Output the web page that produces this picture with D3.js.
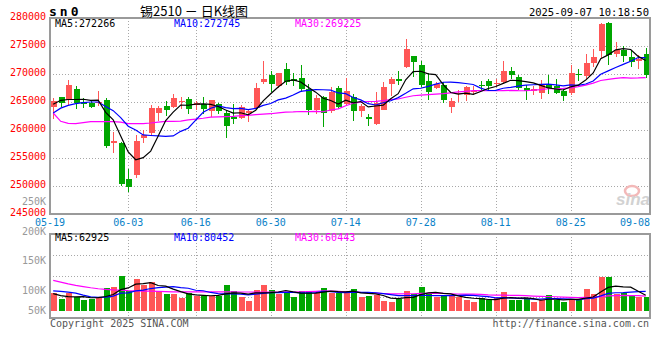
<!DOCTYPE html>
<html><head><meta charset="utf-8">
<script src="https://cdn.jsdelivr.net/npm/d3@7/dist/d3.min.js"></script>
<style>body{margin:0;background:#fff}svg{display:block}</style>
</head><body><svg id="c" width="660" height="360"></svg>
<script>
const dates = ["05-19","05-20","05-21","05-22","05-23","05-26","05-27","05-28","05-29","05-30",
"06-03","06-04","06-05","06-06","06-09","06-10","06-11","06-12","06-13","06-16",
"06-17","06-18","06-19","06-20","06-23","06-24","06-25","06-26","06-27","06-30",
"07-01","07-02","07-03","07-04","07-07","07-08","07-09","07-10","07-11","07-14",
"07-15","07-16","07-17","07-18","07-21","07-22","07-23","07-24","07-25","07-28",
"07-29","07-30","07-31","08-01","08-04","08-05","08-06","08-07","08-08","08-11",
"08-12","08-13","08-14","08-15","08-18","08-19","08-20","08-21","08-22","08-25",
"08-26","08-27","08-28","08-29","09-01","09-02","09-03","09-04","09-05","09-08"];
const opens = [264170,265830,265300,267260,264940,264820,264820,265300,257680,257680,
251190,252020,258630,259460,263040,264230,264110,265120,265480,264400,
264580,263330,264580,263040,262320,262200,263040,263930,268570,269760,
267860,270830,269170,269230,267380,263570,265950,263330,267560,264700,
265950,263390,262320,261010,263570,268160,269110,271250,273160,271550,
268690,267500,268100,264110,266430,266310,266850,268100,268690,268210,
268570,270480,269460,267440,266900,266610,268270,267800,266960,266610,
269940,269640,271960,274110,279050,273510,274230,273040,272320,273510];
const highs = [265710,265900,268870,267860,265710,265420,266900,265710,259700,257860,
253100,259050,260060,264520,264230,265120,266370,265890,265890,265120,
265890,265300,264820,263510,264700,264400,263810,268390,272260,270480,
270180,271900,270120,271550,268270,266310,266070,267680,267800,269290,
266370,264700,262920,266730,268510,269460,270480,276190,273160,272260,
270180,268510,268570,265770,267200,267800,267800,268810,269110,269050,
272260,271250,269880,267980,267800,268870,269760,269170,267380,271550,
270830,273630,274520,279170,279290,275710,275000,274350,273450,274640];
const lows = [262020,264110,264400,263810,263930,263930,264290,256850,255950,250000,
248930,251430,257740,259050,261550,262440,263930,263810,262800,263510,
262800,262320,262920,258570,261010,262020,261430,263690,268160,266790,
267560,268100,267800,266790,262620,262920,260540,263040,263690,264400,
261610,262320,260710,260830,263510,266010,267980,271130,269400,267680,
265420,267380,264820,263040,265000,265180,266190,267020,267020,267680,
268270,269050,267080,265300,266190,265600,266490,266370,265120,266190,
268810,269170,271250,272860,271550,273040,272140,271250,270950,269290];
const closes = [265120,264820,267980,264820,264700,264110,265000,257140,258100,250300,
249820,258100,259050,263870,263870,263510,265710,265240,263750,264820,
263750,265300,263330,260710,261960,264110,263390,267500,269110,268210,
270120,268570,268750,267260,263570,265660,263100,266790,264110,266900,
263390,264230,262020,264880,267620,269110,268810,274400,272140,267980,
266790,268160,265360,265180,266610,267620,267020,267920,267860,268390,
270480,269760,267560,266960,267260,268270,267500,266610,266070,270120,
269760,272020,272980,278870,273450,274230,273160,272140,272740,269760];
const volumes = [71300,48000,71300,55000,43900,46700,52000,93000,97000,142000,
82000,130000,104000,118000,82000,68500,68500,53000,71300,61500,
61500,59000,59000,105000,81000,55000,41000,85000,104000,85000,
68500,71300,56000,81000,81000,71300,93000,74000,71300,75400,
89000,57400,60000,64000,41000,35700,46700,81000,68500,97000,
72600,55000,60000,60000,55000,43900,35700,51000,43900,51000,
76700,43900,43900,46700,35700,43900,64000,43900,35700,43900,
43900,89000,68500,138000,138000,70000,72600,64000,55000,55000];
const ma5Lead = [264600,265300,265450,265450];
const ma10Lead = [263040,263900,264400,264700,264880,265000,265000,264200,263450];
const ma30Lead = [263040,261550,261200,261130,261310,261490,261490,261490,261490,261400,
261130,261130,261130,261250,261400,261550,261550,261600,261800,261950,
262100,262300,262350,262400,262450,262550,262600,262750,262850];
const vma5Lead = [70000,62000,58000,57000];
const vma10Lead = [81000,79000,76000,72000,64000,57000,55000,56000,60000];
const vma30Lead = [124600,117000,110000,104000,99000,94000,90000,87000,85000,84000,
82000,81000,80000,80000,79000,78000,77500,77000,77000,77000,
77000,77000,76800,76800,76800,76600,76600,76500,76500];
const priceTicks = [245000,250000,255000,260000,265000,270000,275000,280000];
const volLabelTicks = [250000,200000,150000,100000,50000];
const volLabels = ["250K","200K","150K","100K","50K"];
const dateTickIdx = [0,10,19,29,39,49,59,69,79];
const maLabels = {ma5:"MA5:272266", ma10:"MA10:272745", ma30:"MA30:269225"};
const vmaLabels = {ma5:"MA5:62925", ma10:"MA10:80452", ma30:"MA30:60443"};

const RED="#ff5656", GREEN="#00a600", GRID="#a8a8a8", BORDER="#9a9a9a";
const MONO="'DejaVu Sans Mono', 'Liberation Mono', monospace";
const svg = d3.select("#c");
const L=50, R=650, T=18, B=214, VT=234, VB=318;

const x = d3.scaleLinear().domain([0,79]).range([53.2,645.7]);
const y = d3.scaleLinear().domain([245000,280000]).range([B,T]);
const yV = d3.scaleLinear().domain([0,100000]).range([310.7,286.3]);
const yVL = d3.scaleLinear().domain([50000,100000,250000]).range([310,290,201.5]);
const yVG = d3.scaleLinear().domain([0,4]).range([VB,VT]);

function ma(arr,n,lead){return arr.map((_,i)=> i<n-1 ? lead[i] : d3.mean(arr.slice(i-n+1,i+1)));}

// grids
const g = svg.append("g").attr("shape-rendering","crispEdges");
g.selectAll(".hg").data(priceTicks.filter(t=>t>245000&&t<280000)).join("line")
  .attr("x1",L).attr("x2",R).attr("y1",d=>Math.round(y(d))+0.5).attr("y2",d=>Math.round(y(d))+0.5)
  .attr("stroke",GRID).attr("stroke-dasharray","1,2");
g.selectAll(".vg").data(dateTickIdx.slice(1,-1)).join("line")
  .attr("x1",d=>Math.round(x(d))+0.5).attr("x2",d=>Math.round(x(d))+0.5).attr("y1",T).attr("y2",B)
  .attr("stroke",GRID).attr("stroke-dasharray","1,2");
g.selectAll(".vhg").data([1,2,3]).join("line")
  .attr("x1",L).attr("x2",R).attr("y1",d=>Math.round(yVG(d))+0.5).attr("y2",d=>Math.round(yVG(d))+0.5)
  .attr("stroke",GRID).attr("stroke-dasharray","1,2");
g.selectAll(".vvg").data(dateTickIdx.slice(1,-1)).join("line")
  .attr("x1",d=>Math.round(x(d))+0.5).attr("x2",d=>Math.round(x(d))+0.5).attr("y1",VT).attr("y2",VB)
  .attr("stroke",GRID).attr("stroke-dasharray","1,2");

// watermark
const wm = svg.append("g");
wm.append("ellipse").attr("cx",632).attr("cy",191).attr("rx",7).attr("ry",5)
  .attr("fill","none").attr("stroke","#f3b9b9").attr("stroke-width",2.5);
wm.append("text").attr("x",650).attr("y",205).attr("text-anchor","end")
  .attr("font-family","'Liberation Sans', Arial, sans-serif").attr("font-style","italic").attr("font-weight","bold")
  .attr("font-size",17).attr("fill","#d2d2d2").text("sina");

// candles
const idx = d3.range(dates.length);
const cg = svg.append("g").attr("shape-rendering","crispEdges");
const up = i => closes[i] >= opens[i];
cg.selectAll(".wick").data(idx).join("line")
  .attr("x1",i=>Math.round(x(i))+0.5).attr("x2",i=>Math.round(x(i))+0.5)
  .attr("y1",i=>y(highs[i])).attr("y2",i=>y(lows[i]))
  .attr("stroke",i=>up(i)?RED:GREEN);
cg.selectAll(".body").data(idx).join("rect")
  .attr("x",i=>Math.round(x(i))-2).attr("width",6)
  .attr("y",i=>y(Math.max(opens[i],closes[i])))
  .attr("height",i=>Math.max(1,y(Math.min(opens[i],closes[i]))-y(Math.max(opens[i],closes[i]))))
  .attr("fill",i=>up(i)?RED:GREEN);

// volume bars
cg.selectAll(".vol").data(idx).join("rect")
  .attr("x",i=>Math.round(x(i))-2).attr("width",6)
  .attr("y",i=>yV(volumes[i])).attr("height",i=>yV(0)-yV(volumes[i]))
  .attr("fill",i=>up(i)?RED:GREEN);

// MA lines
const pm = [ma(closes,5,ma5Lead),ma(closes,10,ma10Lead),ma(closes,30,ma30Lead)];
const vm = [ma(volumes,5,vma5Lead),ma(volumes,10,vma10Lead),ma(volumes,30,vma30Lead)];
const maColors = ["#000000","#0000ff","#ff00ff"];
const lp = d3.line().x((d,i)=>x(i)).y(d=>y(d));
const lv = d3.line().x((d,i)=>x(i)).y(d=>yV(d));
[2,1,0].forEach(k=>{
  svg.append("path").attr("d",lp(pm[k])).attr("fill","none").attr("stroke",maColors[k]).attr("stroke-width",1.2);
  svg.append("path").attr("d",lv(vm[k])).attr("fill","none").attr("stroke",maColors[k]).attr("stroke-width",1.2);
});

// borders
const bg = svg.append("g").attr("shape-rendering","crispEdges").attr("fill","none").attr("stroke",BORDER).attr("stroke-width",2);
bg.append("rect").attr("x",L).attr("y",T).attr("width",R-L).attr("height",B-T);
bg.append("rect").attr("x",L).attr("y",VT).attr("width",R-L).attr("height",VB-VT);

// axis labels
const tg = svg.append("g").attr("font-family",MONO).attr("font-size",10);
tg.selectAll(".pl").data(priceTicks).join("text")
  .attr("x",46).attr("y",d=>y(d)-1.5).attr("dy","0.35em").attr("text-anchor","end")
  .attr("fill","#f00").text(d=>d);
tg.selectAll(".vl").data(volLabelTicks).join("text")
  .attr("x",46).attr("y",d=>yVL(d)).attr("dy","0.35em").attr("text-anchor","end")
  .attr("fill","#999").text((d,i)=>volLabels[i]);
tg.selectAll(".dl").data(dateTickIdx).join("text")
  .attr("x",(d,i)=> i===0 ? L : (i===dateTickIdx.length-1 ? R : x(d)))
  .attr("y",225.5).attr("text-anchor",(d,i)=> i===dateTickIdx.length-1 ? "end" : "middle")
  .attr("fill","#0a82c8").text(d=>dates[d]);

// MA legends
const leg = [[maLabels.ma5,maLabels.ma10,maLabels.ma30],[vmaLabels.ma5,vmaLabels.ma10,vmaLabels.ma30]];
const legX = [55,174,295];
[27,241].forEach((yy,r)=>{
  leg[r].forEach((t,k)=>tg.append("text").attr("x",legX[k]).attr("y",yy).attr("fill",maColors[k]).text(t));
});

// title & footer
svg.append("text").attr("x",49).attr("y",15.5).attr("font-family",MONO).attr("font-weight","bold")
  .attr("font-size",13).attr("letter-spacing",3).attr("fill","#000").text("sn0");
svg.append("text").attr("x",140).attr("y",15.5).attr("font-family","'Noto Sans CJK SC', sans-serif")
  .attr("font-size",13).attr("fill","#000").text("锡2510 － 日K线图");
tg.append("text").attr("x",649).attr("y",15.5).attr("text-anchor","end").attr("font-size",10.5)
  .attr("fill","#000").text("2025-09-07 10:18:50");
tg.append("text").attr("x",50).attr("y",327).attr("fill","#555").text("Copyright 2025 SINA.COM");
tg.append("text").attr("x",649).attr("y",327).attr("text-anchor","end").attr("fill","#555").text("http://finance.sina.com.cn");
</script>
</body></html>
